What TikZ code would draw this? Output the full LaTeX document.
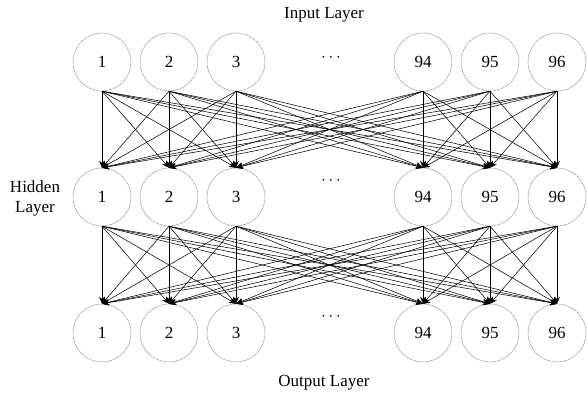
\documentclass[tikz,border=0pt]{standalone}
\usepackage{fontspec}
\setmainfont{Liberation Serif}
\usetikzlibrary{arrows.meta}

\tikzset{
  neuron/.style={circle, draw=gray!85, thin, dash pattern=on 3pt off 0.5pt,
                 minimum size=58*0.03cm, inner sep=0pt, font=\fontsize{14.5}{17}\selectfont},
  link/.style={-{Stealth[length=6pt,width=5pt]}, line width=0.45pt},
  layername/.style={font=\fontsize{14.5}{17}\selectfont, align=center}
}

\begin{document}
\begin{tikzpicture}[x=0.03cm, y=-0.03cm]

\useasboundingbox (0,0) rectangle (588,401);

% layer names
\node[layername] (inname) at (324,15) {Input Layer};
\node[layername] (hidname) at (35,198) {Hidden\\Layer};
\node[layername] (outname) at (324,383) {Output Layer};

% neurons
\foreach \k/\x/\t in {1/102/1, 2/169/2, 3/236/3, 4/423/94, 5/490/95, 6/557/96} {
  \node[neuron] (i\k) at (\x,62) {\t};
  \node[neuron] (h\k) at (\x,197) {\t};
  \node[neuron] (o\k) at (\x,333) {\t};
}

% dots
\node[layername] (idots) at (331,58) {$\cdots$};
\node[layername] (hdots) at (331,181) {$\cdots$};
\node[layername] (odots) at (331,317) {$\cdots$};

% connections
\foreach \a in {1,...,6} {
  \foreach \b in {1,...,6} {
    \draw[link] (i\a.south) -- (h\b.north);
    \draw[link] (h\a.south) -- (o\b.north);
  }
}

\end{tikzpicture}
\end{document}
